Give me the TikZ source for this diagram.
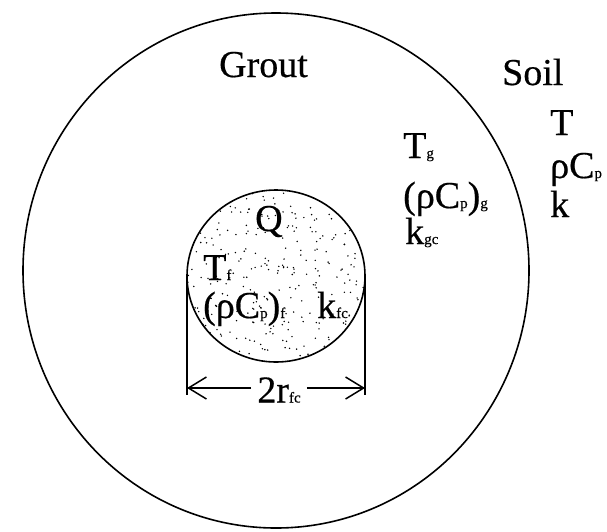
\documentclass[tikz,border=0pt]{standalone}
\usepackage{fontspec}
\setmainfont{Liberation Serif}[FakeBold=0.5]
\usetikzlibrary{shapes.geometric,arrows.meta}
\newcommand\sbs[1]{{\fontsize{15}{15}\selectfont #1}}
\begin{document}
\begin{tikzpicture}[x=1pt,y=-1pt,
  lbl/.style={anchor=base west, inner sep=0pt, font=\fontsize{38}{42}\selectfont},
  ring/.style={draw, ellipse, line width=1.6pt, inner sep=0pt, outer sep=0pt},
  dimline/.style={line width=1.5pt},
  dimarrow/.style={line width=1.5pt, -{Straight Barb[length=18pt,width=22pt]}}]
\useasboundingbox (0,0) rectangle (607,531);
% stippled fluid core
\begin{scope}
  \clip (276,276) ellipse [x radius=89, y radius=86];
  \pgfmathsetseed{7}
  \foreach \i in {1,...,320} {
    \fill ({187+178*rnd},{190+172*rnd}) circle (0.8);
  }
\end{scope}
\node[ring, minimum width=506pt, minimum height=515pt] (bore) at (276,270.5) {};
\node[ring, minimum width=178pt, minimum height=172pt] (pipe) at (276,276) {};
% labels
\node[lbl] (grout) at (219,77) {Grout};
\node[lbl] (soil) at (502,85) {Soil};
\node[lbl] (ts) at (550,135) {T};
\node[lbl] (rcs) at (550,178) {ρC\sbs{p}};
\node[lbl] (ks) at (550,217) {k};
\node[lbl] (tg) at (403,158) {T\sbs{g}};
\node[lbl] (rcg) at (403,208) {(ρC\sbs{p})\sbs{g}};
\node[lbl] (kg) at (405,244) {k\sbs{gc}};
\node[lbl] (q) at (255,231) {Q};
\node[lbl] (tf) at (203,280) {T\sbs{f}};
\node[lbl] (rcf) at (203,318) {(ρC\sbs{p})\sbs{f}};
\node[lbl] (kf) at (317,318) {k\sbs{fc}};
% dimension
\coordinate (Lb) at (187,395);
\coordinate (Rb) at (365,395);
\coordinate (La) at (187,388);
\coordinate (Ra) at (365,388);
\draw[dimline] (pipe.west) -- (Lb);
\draw[dimline] (pipe.east) -- (Rb);
\node[anchor=center, inner sep=6pt, font=\fontsize{38}{42}\selectfont] (dim) at (279,390) {2r\sbs{fc}};
\draw[dimarrow] (dim.west |- La) -- (La);
\draw[dimarrow] (dim.east |- Ra) -- (Ra);
\end{tikzpicture}
\end{document}
